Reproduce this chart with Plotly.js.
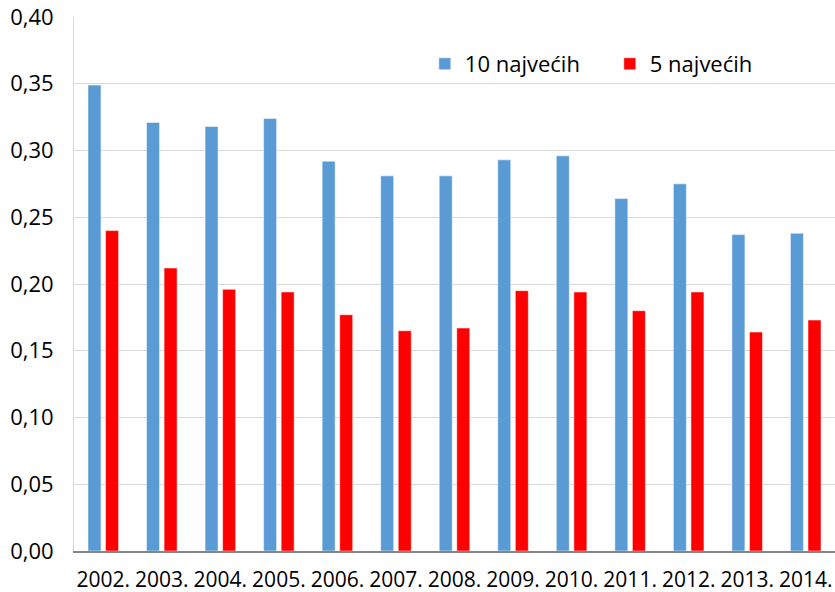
<!DOCTYPE html>
<html>
<head>
<meta charset="utf-8">
<script src="https://cdn.plot.ly/plotly-3.0.1.min.js"></script>
<style>html,body{margin:0;padding:0;background:#fff;}#chart{width:835px;height:592px;}</style>
</head>
<body>
<div id="chart"></div>
<script>
const years = ["2002.","2003.","2004.","2005.","2006.","2007.","2008.","2009.","2010.","2011.","2012.","2013.","2014."];
const top10 = [0.349,0.321,0.318,0.324,0.292,0.281,0.281,0.293,0.296,0.264,0.275,0.237,0.238];
const top5 = [0.240,0.212,0.196,0.194,0.177,0.165,0.167,0.195,0.194,0.180,0.194,0.164,0.173];
const yTicks = [0,0.05,0.10,0.15,0.20,0.25,0.30,0.35,0.40];

const traces = [
  {type:"bar", name:"10 najvećih", x:years, y:top10, marker:{color:"#5B9BD5", line:{color:"#ffffff", width:0.5}}},
  {type:"bar", name:"5 najvećih", x:years, y:top5, marker:{color:"#FF0000", line:{color:"#ffffff", width:0.5}}}
];
const layout = {
  width:835, height:592,
  margin:{l:74, r:0, t:17, b:41, autoexpand:false},
  paper_bgcolor:"#ffffff", plot_bgcolor:"#ffffff",
  separators:",.",
  font:{family:"Open Sans, sans-serif", size:21, color:"#000000"},
  barmode:"group", bargap:0.40, bargroupgap:0.26,
  showlegend:true,
  legend:{orientation:"h", x:0.461, y:0.912, xanchor:"left", yanchor:"middle", font:{size:22}, bgcolor:"rgba(0,0,0,0)", itemwidth:30, traceorder:"normal", entrywidth:140},
  xaxis:{type:"category", showgrid:false, showline:true, linecolor:"#868686", linewidth:2, ticks:"", tickangle:0, tickfont:{size:21}, ticklabelstandoff:9, fixedrange:true},
  yaxis:{range:[0,0.40], tickvals:yTicks, tickformat:".2f", showgrid:true, gridcolor:"#d9d9d9", gridwidth:1, showline:true, linecolor:"#d9d9d9", linewidth:1, zeroline:false, ticks:"", tickfont:{size:22}, ticklabelstandoff:15, fixedrange:true}
};
Plotly.newPlot("chart", traces, layout, {displayModeBar:false, staticPlot:true});
</script>
</body>
</html>
